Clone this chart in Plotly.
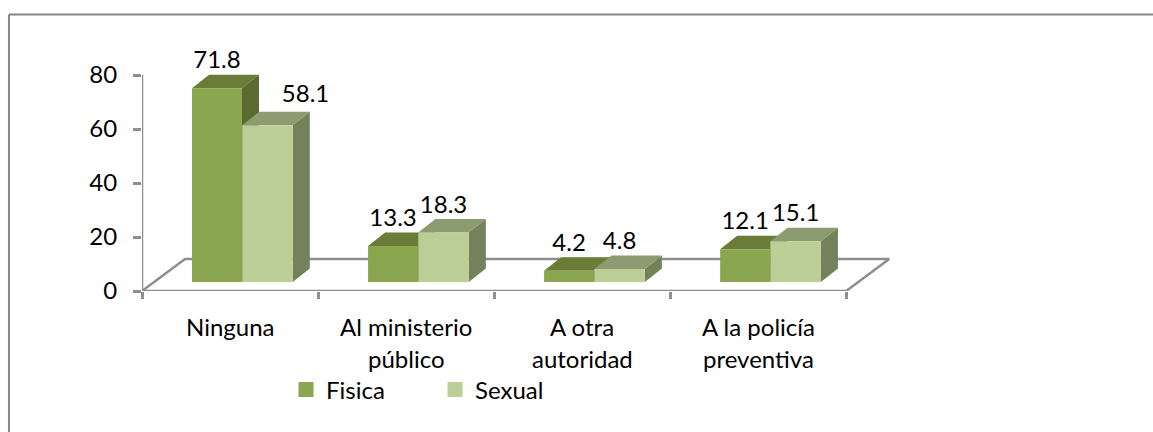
import plotly.graph_objects as go

# ---- data ----
categories = [["Ninguna"], ["Al ministerio", "público"], ["A otra", "autoridad"], ["A la policía", "preventiva"]]
fisica = [71.8, 13.3, 4.2, 12.1]
sexual = [58.1, 18.3, 4.8, 15.1]
y_ticks = [0, 20, 40, 60, 80]

# ---- styles / layout ----
W, H = 1153, 432
L, R_PX, B_PX = 142, 846, 291               # pixel frame of the axes
Y80_PX = 75
YMAX = 100
XMAX = 4.3
PX_X = (R_PX - L) / 4                       # px per category
PX_Y = (B_PX - Y80_PX) / 80                 # px per y unit
T = B_PX - PX_Y * YMAX
plot_w = PX_X * XMAX
FONT = "Lato"
FS = 24
GRAY = "#8e8e8e"
LW = 2.5
BASE = 9 / PX_Y                             # bars stand inside the floor
DX, DY = 17 / PX_X, 13.5 / PX_Y             # bar depth
FLOOR_DX, FLOOR_DY = 43 / PX_X, 32 / PX_Y   # floor depth
styles = [
    dict(name="Fisica", vals=fisica, c=0.426, w=0.284, front="#8aa64e", top="#6b7c38", side="#5a6a30"),
    dict(name="Sexual", vals=sexual, c=0.713, w=0.287, front="#bbce96", top="#8d9c70", side="#74825c"),
]
nudge = {(1, 0): (38, 3.5)}                 # hand-moved data label in the original

fig = go.Figure()

# axis lines and floor
fig.add_trace(go.Scatter(
    x=[0, FLOOR_DX, 4 + FLOOR_DX, 4, 0, None, 0, 0], y=[0, FLOOR_DY, FLOOR_DY, 0, 0, None, 0, 80], mode="lines",
    line=dict(color=GRAY, width=LW), showlegend=False, hoverinfo="skip", cliponaxis=False, zorder=0))

z = 1
for s_i, s in enumerate(styles):
    xs_top, ys_top, xs_side, ys_side = [], [], [], []
    for i, v in enumerate(s["vals"]):
        x0 = i + s["c"] - s["w"] / 2
        x1 = i + s["c"] + s["w"] / 2
        yb, yt = BASE, BASE + v
        xs_top += [x0, x0 + DX, x1 + DX, x1, x0, None]
        ys_top += [yt, yt + DY, yt + DY, yt, yt, None]
        xs_side += [x1, x1 + DX, x1 + DX, x1, x1, None]
        ys_side += [yb, yb + DY, yt + DY, yt, yb, None]
    fig.add_trace(go.Scatter(x=xs_top, y=ys_top, mode="lines", fill="toself", fillcolor=s["top"],
                             line=dict(width=0, color=s["top"]), showlegend=False, hoverinfo="skip", zorder=z))
    fig.add_trace(go.Scatter(x=xs_side, y=ys_side, mode="lines", fill="toself", fillcolor=s["side"],
                             line=dict(width=0, color=s["side"]), showlegend=False, hoverinfo="skip", zorder=z))
    fig.add_trace(go.Bar(x=[i + s["c"] for i in range(4)], y=s["vals"], base=BASE, width=s["w"],
                         marker=dict(color=s["front"], line=dict(width=0)), showlegend=False, zorder=z + 1))
    z += 2

# data labels
for s_i, s in enumerate(styles):
    lx, ly = [], []
    for i, v in enumerate(s["vals"]):
        ox, oy = nudge.get((s_i, i), (0, 0))
        lx.append(i + s["c"] + ox / PX_X)
        ly.append(BASE + v + DY + (12.5 + oy) / PX_Y)
    fig.add_trace(go.Scatter(x=lx, y=ly, mode="text", text=[str(v) for v in s["vals"]],
                             textposition="middle center", textfont=dict(family=FONT, size=FS, color="#000"),
                             cliponaxis=False, showlegend=False, hoverinfo="skip", zorder=10))

# legend entries
for s in styles:
    fig.add_trace(go.Scatter(x=[None], y=[None], mode="markers", name=s["name"],
                             marker=dict(symbol="square", size=15, color=s["front"])))

def px(x): return (x - L) / plot_w
def py(y): return (B_PX - y) / (B_PX - T)

# category labels, line by line
LINE_Y = [326, 358]
anns = []
for i, lines in enumerate(categories):
    for j, t in enumerate(lines):
        anns.append(dict(x=i + 0.5, xref="x", y=py(LINE_Y[j]), yref="paper", text=t,
                         showarrow=False, xanchor="center", yanchor="middle",
                         font=dict(family=FONT, size=FS, color="#000")))

shapes = [
    dict(type="line", xref="paper", yref="paper", x0=px(9), x1=px(9), y0=py(14.5), y1=py(432),
         line=dict(color="#868686", width=2)),
    dict(type="line", xref="paper", yref="paper", x0=px(9), x1=px(1153), y0=py(14.5), y1=py(14.5),
         line=dict(color="#868686", width=2)),
]

fig.update_layout(
    width=W, height=H, autosize=False,
    margin=dict(l=L, r=W - L - plot_w, t=T, b=H - B_PX, pad=0),
    paper_bgcolor="white", plot_bgcolor="rgba(0,0,0,0)",
    barmode="overlay",
    hovermode=False,
    font=dict(family=FONT, size=FS, color="#000"),
    annotations=anns, shapes=shapes,
    xaxis=dict(range=[0, XMAX], tickmode="array", tickvals=[0, 1, 2, 3, 4], showticklabels=False,
               ticks="outside", ticklen=7, tickcolor=GRAY, tickwidth=LW, showgrid=False, zeroline=False, showline=False),
    yaxis=dict(range=[0, YMAX], tickmode="array", tickvals=y_ticks, ticktext=[str(t) for t in y_ticks],
               ticks="outside", ticklen=8, tickcolor=GRAY, tickwidth=LW, showline=False,
               showgrid=False, zeroline=False, ticklabelstandoff=11,
               tickfont=dict(family=FONT, size=FS, color="#000")),
    legend=dict(orientation="h", x=px(286), xanchor="left", y=py(390), yanchor="middle",
                entrywidthmode="pixels", entrywidth=104, itemsizing="trace",
                font=dict(family=FONT, size=FS, color="#000"), bgcolor="rgba(0,0,0,0)", borderwidth=0),
)

fig.write_html("out.html", config={"displayModeBar": False},
               post_script="document.body.style.margin='0';document.body.style.overflow='hidden';")
